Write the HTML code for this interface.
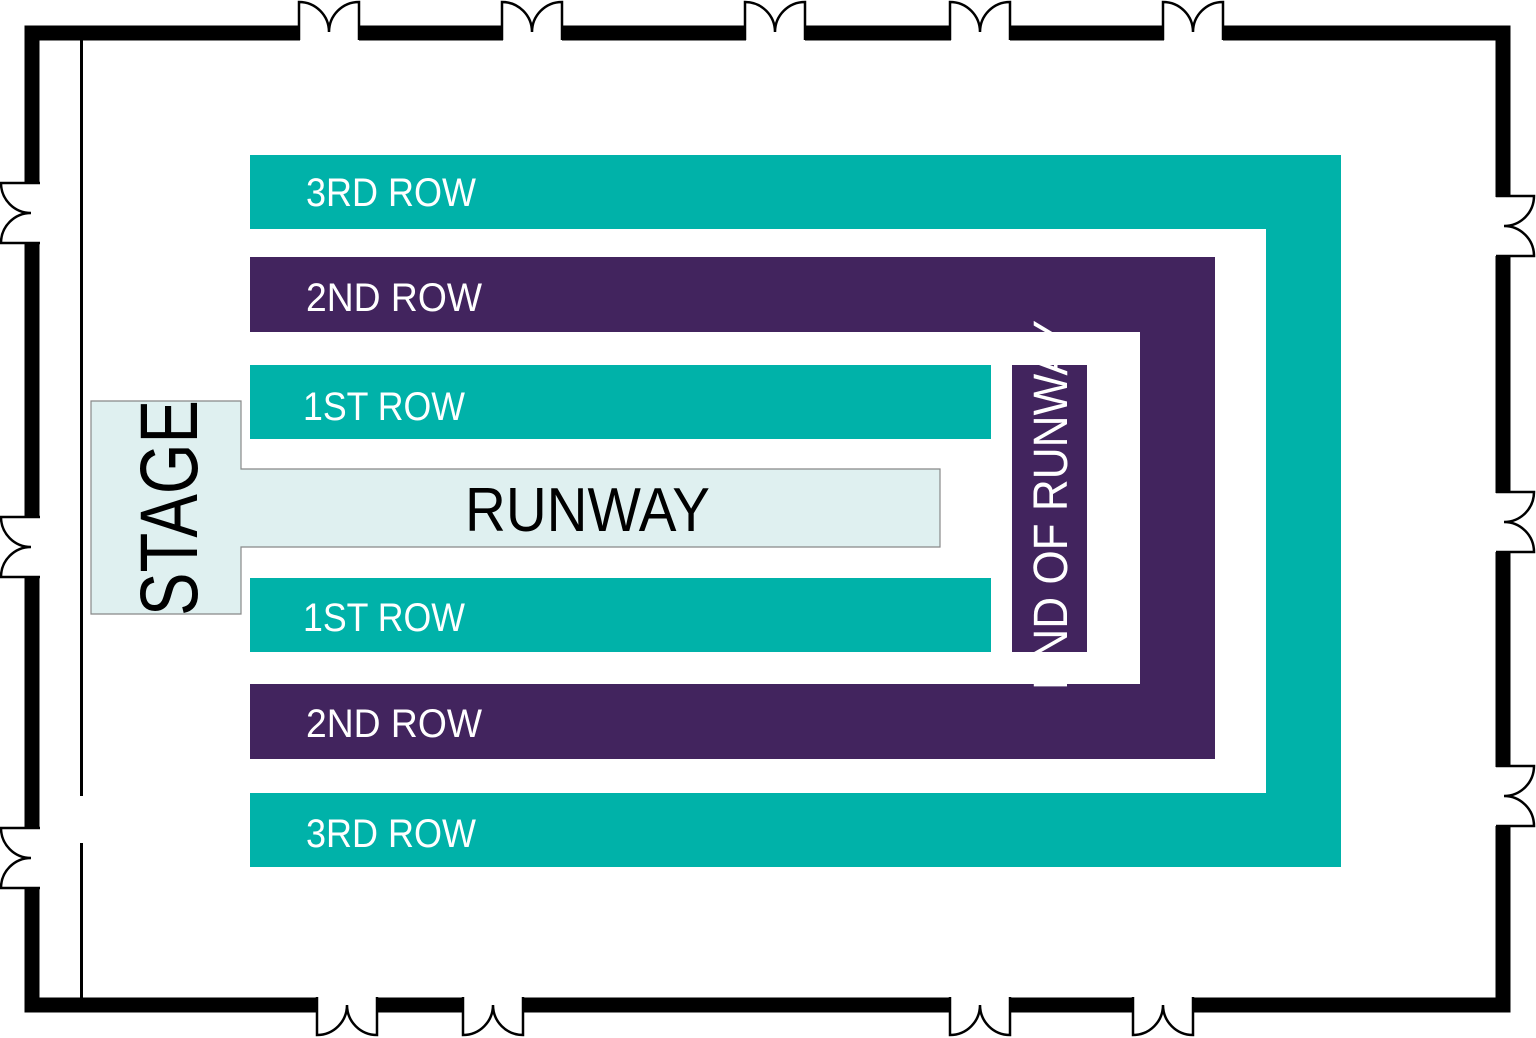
<!DOCTYPE html>
<html><head><meta charset="utf-8"><style>html,body{margin:0;padding:0;background:#fff}svg{display:block}</style></head>
<body>
<svg width="1536" height="1038" viewBox="0 0 1536 1038" xmlns="http://www.w3.org/2000/svg" font-family="Liberation Sans, sans-serif">
<rect x="0" y="0" width="1536" height="1038" fill="#fff"/>
<rect x="32" y="33" width="1471" height="972" fill="none" stroke="#000" stroke-width="15"/>
<line x1="81.5" y1="40" x2="81.5" y2="796" stroke="#000" stroke-width="3"/>
<line x1="81.5" y1="843" x2="81.5" y2="998" stroke="#000" stroke-width="3"/>
<g fill="#fff">
<rect x="300" y="20" width="59" height="28"/><rect x="503" y="20" width="59" height="28"/><rect x="746" y="20" width="59" height="28"/><rect x="951" y="20" width="59" height="28"/><rect x="1164" y="20" width="59" height="28"/>
<rect x="318" y="990" width="59" height="30"/><rect x="464" y="990" width="59" height="30"/><rect x="951" y="990" width="59" height="30"/><rect x="1134" y="990" width="59" height="30"/>
<rect x="18" y="184" width="30" height="59"/><rect x="18" y="518" width="30" height="59"/><rect x="18" y="829" width="30" height="59"/>
<rect x="1488" y="197" width="30" height="59"/><rect x="1488" y="493" width="30" height="59"/><rect x="1488" y="767" width="30" height="59"/>
</g>
<g fill="none" stroke="#000" stroke-width="2.5">
<path d="M299,40V2A30,30 0 0 1 329,32M359,40V2A30,30 0 0 0 329,32"/>
<path d="M502,40V2A30,30 0 0 1 532,32M562,40V2A30,30 0 0 0 532,32"/>
<path d="M745,40V2A30,30 0 0 1 775,32M805,40V2A30,30 0 0 0 775,32"/>
<path d="M950,40V2A30,30 0 0 1 980,32M1010,40V2A30,30 0 0 0 980,32"/>
<path d="M1163,40V2A30,30 0 0 1 1193,32M1223,40V2A30,30 0 0 0 1193,32"/>
<path d="M317,997V1035A30,30 0 0 0 347,1005M377,997V1035A30,30 0 0 1 347,1005"/>
<path d="M463,997V1035A30,30 0 0 0 493,1005M523,997V1035A30,30 0 0 1 493,1005"/>
<path d="M950,997V1035A30,30 0 0 0 980,1005M1010,997V1035A30,30 0 0 1 980,1005"/>
<path d="M1133,997V1035A30,30 0 0 0 1163,1005M1193,997V1035A30,30 0 0 1 1163,1005"/>
<path d="M40,183H1A30,30 0 0 0 31,213M40,243H1A30,30 0 0 1 31,213"/>
<path d="M40,517H1A30,30 0 0 0 31,547M40,577H1A30,30 0 0 1 31,547"/>
<path d="M40,828H1A30,30 0 0 0 31,858M40,888H1A30,30 0 0 1 31,858"/>
<path d="M1496,196H1534A30,30 0 0 1 1504,226M1496,256H1534A30,30 0 0 0 1504,226"/>
<path d="M1496,492H1534A30,30 0 0 1 1504,522M1496,552H1534A30,30 0 0 0 1504,522"/>
<path d="M1496,766H1534A30,30 0 0 1 1504,796M1496,826H1534A30,30 0 0 0 1504,796"/>
</g>
<path d="M250,155H1341V867H250V793H1266V229H250Z" fill="#00b2a9"/>
<path d="M250,257H1215V759H250V684H1140V332H250Z" fill="#42245e"/>
<rect x="250" y="365" width="741" height="74" fill="#00b2a9"/>
<rect x="250" y="578" width="741" height="74" fill="#00b2a9"/>
<rect x="1012" y="365" width="75" height="287" fill="#42245e"/>
<path d="M91,401H241V469H940V547H241V614H91Z" fill="#dff0f0" stroke="#888" stroke-width="1.2"/>
<g fill="#fff" font-size="40">
<text x="306" y="206" textLength="170" lengthAdjust="spacingAndGlyphs">3RD ROW</text>
<text x="306" y="311" textLength="176" lengthAdjust="spacingAndGlyphs">2ND ROW</text>
<text x="303" y="420" textLength="162" lengthAdjust="spacingAndGlyphs">1ST ROW</text>
<text x="303" y="631" textLength="162" lengthAdjust="spacingAndGlyphs">1ST ROW</text>
<text x="306" y="737" textLength="176" lengthAdjust="spacingAndGlyphs">2ND ROW</text>
<text x="306" y="847" textLength="170" lengthAdjust="spacingAndGlyphs">3RD ROW</text>
</g>
<text x="465" y="531" font-size="62" fill="#000" textLength="245" lengthAdjust="spacingAndGlyphs">RUNWAY</text>
<text transform="translate(197,616) rotate(-90)" font-size="82" fill="#000" textLength="216" lengthAdjust="spacingAndGlyphs">STAGE</text>
<text transform="translate(1067,690) rotate(-90)" font-size="48" fill="#fff" textLength="370" lengthAdjust="spacingAndGlyphs">END OF RUNWAY</text>
</svg>
</body></html>
